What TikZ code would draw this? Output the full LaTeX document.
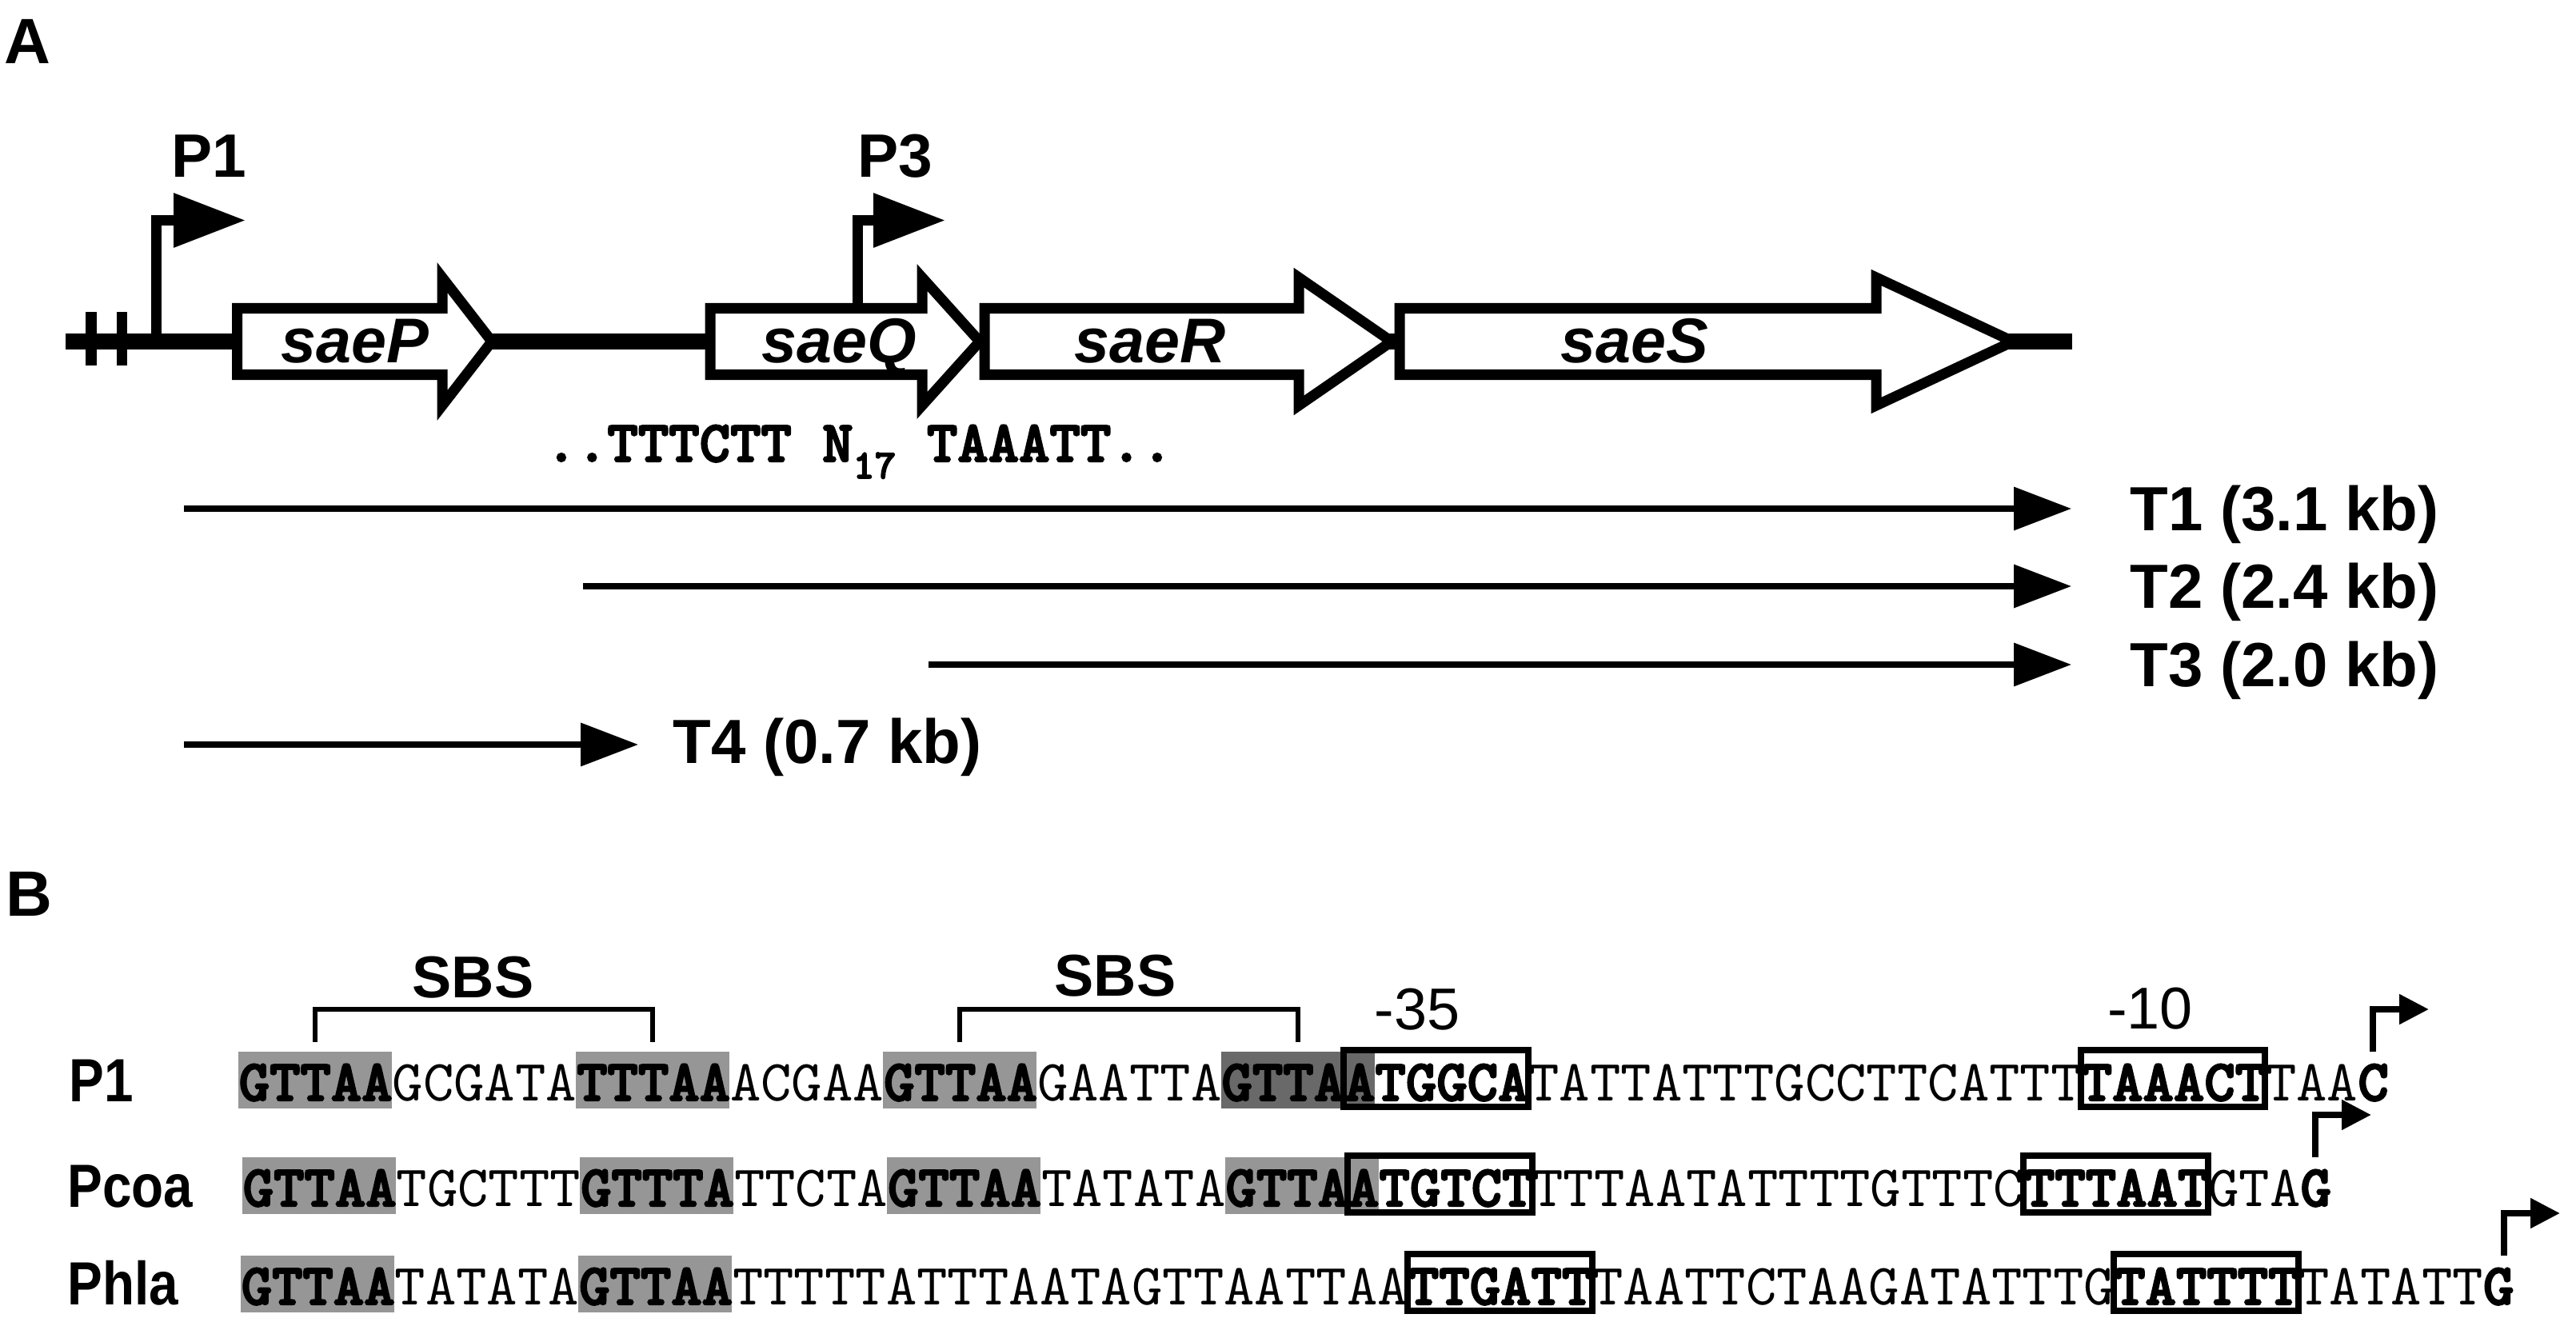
\documentclass[tikz,border=0pt]{standalone}
\usepackage{fontspec}
\setsansfont{Liberation Sans}
\newfontfamily\rowfont{Liberation Sans}[FakeStretch=0.86]
\newfontfamily\seqfont{lmmono10-regular.otf}[BoldFont=lmmonolt10-bold.otf, BoldFeatures={FakeBold=3}]
\usetikzlibrary{arrows.meta}

\definecolor{sbsgrey}{gray}{0.59}
\definecolor{sbsdark}{gray}{0.41}

\newcommand{\seqsize}{\fontsize{20.81}{25}\selectfont\seqfont}

\begin{document}
\begin{tikzpicture}[
    panel/.style={font=\fontsize{22.8}{27}\selectfont\sffamily\bfseries, anchor=base west, inner sep=0pt},
    promoter/.style={font=\fontsize{21.8}{26}\selectfont\sffamily\bfseries, anchor=base west, inner sep=0pt},
    genename/.style={font=\fontsize{22.5}{26}\selectfont\sffamily\bfseries\itshape, anchor=base, inner sep=0pt},
    gene/.style={draw, fill=white, line width=3.7pt},
    tss/.style={line width=3.7pt, -{Triangle[length=0.90cm, width=0.65cm]}},
    transcript/.style={line width=2pt, -{Triangle[length=0.72cm, width=0.53cm]}},
    tlabel/.style={font=\fontsize{22.2}{26}\selectfont\sffamily\bfseries, anchor=base west, inner sep=0pt},
    motif/.style={font=\seqsize\bfseries, anchor=base west, inner sep=0pt},
    seqreg/.style={font=\seqsize, anchor=base west, inner sep=0pt},
    seqbold/.style={font=\seqsize\bfseries, anchor=base west, inner sep=0pt},
    rowlabel/.style={font=\fontsize{21.7}{26}\selectfont\rowfont\bfseries, anchor=base west, inner sep=0pt},
    sbslabel/.style={font=\fontsize{21}{25}\selectfont\sffamily\bfseries, anchor=base, inner sep=0pt},
    boxlabel/.style={font=\fontsize{21}{25}\selectfont\sffamily, anchor=base, inner sep=0pt},
    sbsbracket/.style={line width=1.5pt},
    corebox/.style={draw, line width=2.3pt},
    startarrow/.style={line width=2.3pt, -{Triangle[length=0.37cm, width=0.36cm]}}
]
\useasboundingbox (0,0) rectangle (32.21,-16.63);

% ---------- panel A ----------
\node[panel] (labA) at (0.05,-0.80) {A};

% chromosome line with break mark
\draw[line width=5.7pt] (0.82,-4.27) -- (25.91,-4.27);
\fill (1.07,-3.90) rectangle (1.21,-4.57);
\fill (1.46,-3.90) rectangle (1.59,-4.57);

% genes (left end / head base / tip / label x)
\foreach \xa/\xh/\xt/\xl/\g in {2.965/5.53/6.15/4.44/P, 8.88/11.53/12.25/10.49/Q,
                                12.31/16.24/17.40/14.38/R, 17.50/23.46/25.17/20.44/S} {
  \filldraw[gene] (\xa,-3.855) -- (\xh,-3.855) -- (\xh,-3.47) -- (\xt,-4.27)
                  -- (\xh,-5.07) -- (\xh,-4.685) -- (\xa,-4.685) -- cycle;
  \node[genename] (sae\g) at (\xl,-4.53) {sae\g};
}

% promoters
\draw[tss] (1.955,-4.27) |- (3.07,-2.755);
\node[promoter] (labP1) at (2.14,-2.22) {P1};
\draw[tss] (10.72,-3.855) |- (11.82,-2.755);
\node[promoter] (labP3) at (10.72,-2.22) {P3};

% sequence motif under saeQ
\node[motif] (motif) at (6.82,-5.77) {..TTTCTT N\raisebox{-0.21cm}{\fontsize{14.6}{15}\selectfont 17} TAAATT..};

% transcripts
\foreach \n/\xs/\y/\kb in {1/2.30/6.36/3.1, 2/7.29/7.33/2.4, 3/11.61/8.31/2.0} {
  \coordinate (start\n) at (\xs,-\y);
  \coordinate (end\n) at (25.90,-\y);
  \draw[transcript] (start\n) -- (end\n);
  \node[tlabel] (T\n) at (26.63,-\y-0.27) {T\n\ (\kb\ kb)};
}
\coordinate (start4) at (2.30,-9.31);
\coordinate (end4) at (7.98,-9.31);
\draw[transcript] (start4) -- (end4);
\node[tlabel] (T4) at (8.41,-9.54) {T4 (0.7 kb)};

% ---------- panel B ----------
\node[panel] (labB) at (0.07,-11.45) {B};

% SBS brackets
\draw[sbsbracket] (3.94,-13.03) |- (8.16,-12.62) -- (8.16,-13.03);
\node[sbslabel] (sbs1) at (5.915,-12.47) {SBS};
\draw[sbsbracket] (12.00,-13.03) |- (16.23,-12.62) -- (16.23,-13.03);
\node[sbslabel] (sbs2) at (13.945,-12.45) {SBS};

\node[boxlabel] (m35) at (17.72,-12.87) {-35};
\node[boxlabel] (m10) at (26.885,-12.86) {-10};

% P1 row
\node[rowlabel] (rowP1) at (0.86,-13.77) {P1};
\foreach \a/\c in {0/sbsgrey, 11/sbsgrey, 21/sbsgrey, 32/sbsdark}
  \fill[\c] (2.98+\a*0.384,-13.86) rectangle ++(5*0.384,0.71);
\foreach \a in {36,60}
  \draw[corebox] (2.98+\a*0.384,-13.84) rectangle ++(6*0.384,0.71);
\foreach \i/\s/\st in {0/GTTAA/seqbold, 5/GCGATA/seqreg, 11/TTTAA/seqbold, 16/ACGAA/seqreg,
                       21/GTTAA/seqbold, 26/GAATTA/seqreg, 32/GTTAATGGCA/seqbold,
                       42/TATTATTTGCCTTCATTT/seqreg, 60/TAAACT/seqbold, 66/TAA/seqreg, 69/C/seqbold}
  \node[\st] (p1s\i) at (2.98+\i*0.384,-13.76) {\s};
\coordinate (p1tss) at (29.67,-13.15);
\draw[startarrow] (p1tss) |- ++(0.70,0.53);

% Pcoa row
\node[rowlabel] (rowPcoa) at (0.84,-15.09) {Pcoa};
\foreach \a in {0,11,21,32}
  \fill[sbsgrey] (3.03+\a*0.384,-15.18) rectangle ++(5*0.384,0.71);
\foreach \a in {36,58}
  \draw[corebox] (3.03+\a*0.384,-15.16) rectangle ++(6*0.384,0.71);
\foreach \i/\s/\st in {0/GTTAA/seqbold, 5/TGCTTT/seqreg, 11/GTTTA/seqbold, 16/TTCTA/seqreg,
                       21/GTTAA/seqbold, 26/TATATA/seqreg, 32/GTTAATGTCT/seqbold,
                       42/TTTAATATTTTGTTTC/seqreg, 58/TTTAAT/seqbold, 64/GTA/seqreg, 67/G/seqbold}
  \node[\st] (pcs\i) at (3.03+\i*0.384,-15.08) {\s};
\coordinate (pctss) at (28.95,-14.47);
\draw[startarrow] (pctss) |- ++(0.70,0.53);

% Phla row
\node[rowlabel] (rowPhla) at (0.84,-16.31) {Phla};
\foreach \a in {0,11}
  \fill[sbsgrey] (3.01+\a*0.384,-16.41) rectangle ++(5*0.384,0.71);
\foreach \a in {38,61}
  \draw[corebox] (3.01+\a*0.384,-16.39) rectangle ++(6*0.384,0.71);
\foreach \i/\s/\st in {0/GTTAA/seqbold, 5/TATATA/seqreg, 11/GTTAA/seqbold,
                       16/TTTTTATTTAATAGTTAATTAA/seqreg, 38/TTGATT/seqbold,
                       44/TAATTCTAAGATATTTG/seqreg, 61/TATTTT/seqbold, 67/TATATT/seqreg, 73/G/seqbold}
  \node[\st] (phs\i) at (3.01+\i*0.384,-16.31) {\s};
\coordinate (phtss) at (31.31,-15.70);
\draw[startarrow] (phtss) |- ++(0.70,0.53);

\end{tikzpicture}
\end{document}
